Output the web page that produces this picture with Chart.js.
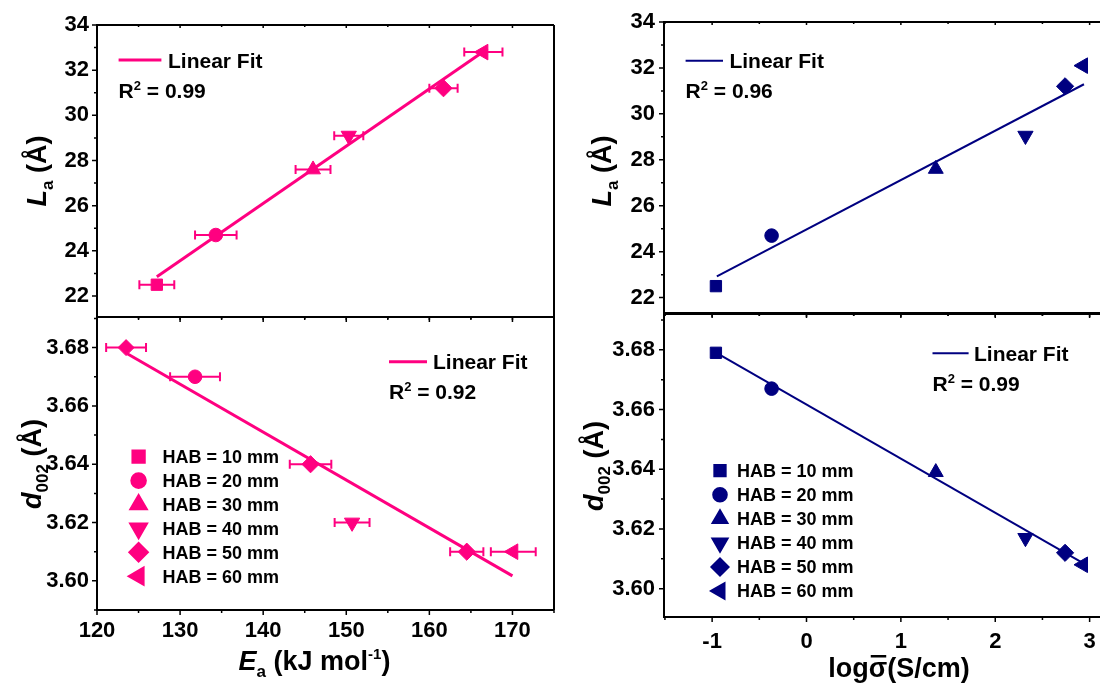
<!DOCTYPE html>
<html lang="en">
  <head>
    <meta charset="UTF-8" />
    <title>La and d002 vs Ea and log sigma</title>
    <script src="https://cdn.jsdelivr.net/npm/chart.js@4"></script>
    <style>
      html,
      body {
        margin: 0;
        padding: 0;
        background: #fff;
        overflow: hidden;
      }
      body {
        width: 1110px;
        height: 684px;
        position: relative;
      }
      canvas {
        position: absolute;
      }
    </style>
  </head>
  <body>
    <canvas id="laEa"></canvas>
    <canvas id="dEa"></canvas>
    <canvas id="laSig"></canvas>
    <canvas id="dSig"></canvas>

    <script>
      // legend labels
      const habLabels = ["HAB = 10 mm", "HAB = 20 mm", "HAB = 30 mm", "HAB = 40 mm", "HAB = 50 mm", "HAB = 60 mm"];

      // La vs Ea (top left)
      const eaForLa = [127.2, 134.3, 146.0, 150.3, 161.7, 166.5];
      const eaForLaErr = [2.1, 2.5, 2.1, 1.75, 1.7, 2.3];
      const laByEa = [22.5, 24.7, 27.6, 29.1, 31.2, 32.8];
      const laEaFitX = [127.2, 167.0];
      const laEaFitY = [22.85, 32.95];

      // d002 vs Ea (bottom left)
      const eaForD = [123.5, 131.8, 145.7, 150.7, 164.5, 170.1];
      const eaForDErr = [2.4, 3.0, 2.5, 2.1, 2.0, 2.7];
      const dByEa = [3.68, 3.67, 3.64, 3.62, 3.61, 3.61];
      const dEaFitX = [123.6, 170.0];
      const dEaFitY = [3.678, 3.6017];

      // La vs log sigma (top right)
      const logSigma = [-0.96, -0.37, 1.37, 2.32, 2.74, 2.93];
      const laBySigma = [22.5, 24.7, 27.6, 29.05, 31.2, 32.1];
      const laSigFitX = [-0.95, 2.94];
      const laSigFitY = [22.92, 31.29];

      // d002 vs log sigma (bottom right)
      const dBySigma = [3.679, 3.667, 3.639, 3.617, 3.612, 3.608];
      const dSigFitX = [-0.95, 2.94];
      const dSigFitY = [3.6789, 3.6084];

      const r2Values = ["0.99", "0.92", "0.96", "0.99"];

      // tick labels
      const laTicks = [22, 24, 26, 28, 30, 32, 34];
      const dTicks = [3.6, 3.62, 3.64, 3.66, 3.68];
      const eaTicks = [120, 130, 140, 150, 160, 170];
      const logTicks = [-1, 0, 1, 2, 3];

      // styles
      const pink = "#ff0080";
      const navy = "#000080";
      const FAMILY = '"Liberation Sans", Arial, sans-serif';
      const B = (s) => `bold ${s}px ${FAMILY}`;
      const BI = (s) => `bold italic ${s}px ${FAMILY}`;
      const markerStyles = ["rect", "circle", "triangle", "triangle", "rectRot", "triangle"];
      const markerStylesDEa = ["rectRot", "circle", "rectRot", "triangle", "rectRot", "triangle"];
      const markerRot = [0, 0, 0, 180, 0, -90];
      const markerRad = [8, 6.8, 8.6, 8.8, 8.6, 9];

      const T = 27;
      const titleLa = [
        { t: "L", f: BI(T) },
        { t: "a", f: B(17), dy: 7 },
        { t: " (Å)", f: B(T) },
      ];
      const titleD = [
        { t: "d", f: BI(T) },
        { t: "002", f: B(17), dy: 7 },
        { t: " (Å)", f: B(T) },
      ];
      const titleEa = [
        { t: "E", f: BI(T) },
        { t: "a", f: B(17), dy: 7 },
        { t: " (kJ mol", f: B(T) },
        { t: "-1", f: B(15), dy: -11 },
        { t: ")", f: B(T) },
      ];
      const titleSig = [
        { t: "log", f: B(T) },
        { t: "σ", f: B(T), bar: true },
        { t: "(S/cm)", f: B(T) },
      ];

      // text with sub/superscripts
      function drawRich(ctx, parts, x, y, center) {
        let w = 0;
        parts.forEach((p) => {
          ctx.font = p.f;
          p.w = ctx.measureText(p.t).width;
          w += p.w;
        });
        let cx = center ? x - w / 2 : x;
        ctx.textAlign = "left";
        ctx.textBaseline = "alphabetic";
        ctx.fillStyle = "#000";
        parts.forEach((p) => {
          ctx.font = p.f;
          ctx.fillText(p.t, cx, y + (p.dy || 0));
          if (p.bar) ctx.fillRect(cx + 2, y - 22, p.w - 3, 2.5);
          cx += p.w;
        });
      }

      function minorsOf(major, min, max) {
        const step = major[1] - major[0];
        const out = [];
        for (let v = major[0] - step / 2; v <= max + 1e-9; v += step) {
          if (v >= min - 1e-9) out.push(v);
        }
        return out;
      }

      // frame, ticks, error bars, legends and titles
      const panelDecor = {
        id: "panelDecor",
        afterDatasetsDraw(chart, args, o) {
          const ctx = chart.ctx;
          const { left, right, top, bottom } = chart.chartArea;
          const xs = chart.scales.x;
          const ys = chart.scales.y;
          ctx.save();

          // error bars
          if (o.err) {
            const pts = chart.data.datasets[0].data;
            ctx.strokeStyle = o.color;
            ctx.lineWidth = 2;
            ctx.beginPath();
            pts.forEach((p, i) => {
              const x1 = xs.getPixelForValue(p.x - o.err[i]);
              const x2 = xs.getPixelForValue(p.x + o.err[i]);
              const py = ys.getPixelForValue(p.y);
              ctx.moveTo(x1, py);
              ctx.lineTo(x2, py);
              ctx.moveTo(x1, py - 4.5);
              ctx.lineTo(x1, py + 4.5);
              ctx.moveTo(x2, py - 4.5);
              ctx.lineTo(x2, py + 4.5);
            });
            ctx.stroke();
          }

          // frame
          ctx.strokeStyle = "#000";
          ctx.lineWidth = 2;
          ctx.beginPath();
          ctx.moveTo(right, top);
          ctx.lineTo(left, top);
          ctx.lineTo(left, bottom);
          ctx.lineTo(right, bottom);
          if (o.frameRight) {
            ctx.moveTo(right, top);
            ctx.lineTo(right, bottom);
          }
          ctx.stroke();

          // ticks
          ctx.lineWidth = 1.5;
          ctx.beginPath();
          const yMinors = minorsOf(o.yMajor, ys.min, ys.max);
          o.yMajor.forEach((v) => {
            const y = ys.getPixelForValue(v);
            ctx.moveTo(left, y);
            ctx.lineTo(left - 5, y);
          });
          yMinors.forEach((v) => {
            const y = ys.getPixelForValue(v);
            ctx.moveTo(left, y);
            ctx.lineTo(left - 3, y);
          });
          const xMinors = minorsOf(o.xMajor, xs.min, xs.max);
          o.xMajor.forEach((v) => {
            const x = xs.getPixelForValue(v);
            ctx.moveTo(x, bottom);
            ctx.lineTo(x, bottom + 5);
            ctx.moveTo(x, top);
            ctx.lineTo(x, top + 3);
          });
          xMinors.forEach((v) => {
            const x = xs.getPixelForValue(v);
            ctx.moveTo(x, bottom);
            ctx.lineTo(x, bottom + 3);
            ctx.moveTo(x, top);
            ctx.lineTo(x, top + 2);
          });
          ctx.stroke();

          // move to page coordinates
          ctx.translate(-o.ox, -o.oy);

          // linear fit legend
          const f = o.fit;
          ctx.strokeStyle = o.color;
          ctx.lineWidth = f.lw;
          ctx.beginPath();
          ctx.moveTo(f.x1, f.y);
          ctx.lineTo(f.x2, f.y);
          ctx.stroke();
          drawRich(ctx, [{ t: "Linear Fit", f: B(21) }], f.tx, f.y + 7.5, false);
          drawRich(
            ctx,
            [
              { t: "R", f: B(21) },
              { t: "2", f: B(13), dy: -8 },
              { t: " = " + f.r2, f: B(21) },
            ],
            f.x1,
            f.ry + 7.5,
            false
          );

          // HAB legend
          if (o.hab) {
            const h = o.hab;
            habLabels.forEach((lab, i) => {
              const y = h.y0 + i * h.dy;
              ctx.fillStyle = o.color;
              ctx.strokeStyle = o.color;
              Chart.helpers.drawPoint(
                ctx,
                { pointStyle: markerStyles[i], rotation: markerRot[i], radius: markerRad[i], borderWidth: 1 },
                h.mx,
                y
              );
              drawRich(ctx, [{ t: lab, f: B(18) }], h.tx, y + 6.5, false);
            });
          }

          // axis titles
          if (o.yTitle) {
            ctx.save();
            ctx.translate(o.yTitle.x, o.yTitle.y);
            ctx.rotate(-Math.PI / 2);
            drawRich(ctx, o.yTitle.parts, 0, 0, true);
            ctx.restore();
          }
          if (o.xTitle) {
            drawRich(ctx, o.xTitle.parts, o.xTitle.x, o.xTitle.y, true);
          }
          ctx.restore();
        },
      };

      function toPoints(xs, ys) {
        return xs.map((x, i) => ({ x, y: ys[i] }));
      }

      function makePanel(id, p) {
        const cv = document.getElementById(id);
        cv.width = p.w;
        cv.height = p.h;
        cv.style.left = p.left + "px";
        cv.style.top = p.top + "px";
        cv.style.width = p.w + "px";
        cv.style.height = p.h + "px";

        const tickFont = { family: FAMILY, size: 22, weight: "bold" };
        return new Chart(cv, {
          type: "scatter",
          data: {
            datasets: [
              {
                data: toPoints(p.xData, p.yData),
                pointStyle: p.styles,
                pointRotation: markerRot,
                pointRadius: markerRad,
                backgroundColor: p.color,
                borderColor: p.color,
                pointBorderWidth: 1,
              },
              {
                data: toPoints(p.fitX, p.fitY),
                showLine: true,
                borderColor: p.color,
                borderWidth: p.fitWidth,
                pointRadius: 0,
              },
            ],
          },
          options: {
            responsive: false,
            animation: false,
            devicePixelRatio: 1,
            events: [],
            layout: { padding: p.pad },
            plugins: {
              legend: { display: false },
              tooltip: { enabled: false },
              panelDecor: p.decor,
            },
            scales: {
              x: {
                type: "linear",
                min: p.xMin,
                max: p.xMax,
                grid: { display: false, drawTicks: false },
                border: { display: false },
                afterBuildTicks: (s) => {
                  s.ticks = p.xTicks.map((v) => ({ value: v }));
                },
                afterFit: (s) => {
                  s.height = p.xh;
                  s.paddingLeft = 0;
                  s.paddingRight = 0;
                },
                ticks: {
                  display: p.xLabels,
                  autoSkip: false,
                  maxRotation: 0,
                  padding: p.xPad,
                  color: "#000",
                  font: tickFont,
                },
              },
              y: {
                type: "linear",
                min: p.yMin,
                max: p.yMax,
                grid: { display: false, drawTicks: false },
                border: { display: false },
                afterBuildTicks: (s) => {
                  s.ticks = p.yTicks.map((v) => ({ value: v }));
                },
                afterFit: (s) => {
                  s.width = p.yw;
                  s.paddingTop = 0;
                  s.paddingBottom = 0;
                },
                ticks: {
                  autoSkip: false,
                  padding: p.yPad,
                  color: "#000",
                  font: tickFont,
                  callback: p.yFmt,
                },
              },
            },
          },
          plugins: [panelDecor],
        });
      }

      // top left
      makePanel("laEa", {
        left: 0, top: 0, w: 564, h: 331, yw: 97, xh: 14,
        pad: { left: 0, top: 25, right: 4, bottom: 0 },
        xData: eaForLa, yData: laByEa, fitX: laEaFitX, fitY: laEaFitY,
        styles: markerStyles, color: pink, fitWidth: 3,
        xMin: 120, xMax: 175, yMin: 21.07, yMax: 34,
        xTicks: eaTicks, yTicks: laTicks, xLabels: false, xPad: 8, yPad: 8,
        yFmt: (v) => v.toString(),
        decor: {
          ox: 0, oy: 0, frameRight: true, color: pink, err: eaForLaErr,
          xMajor: eaTicks, yMajor: laTicks,
          fit: { x1: 118.6, x2: 161.4, y: 60, tx: 168, lw: 3, r2: r2Values[0], ry: 90 },
          hab: null,
          yTitle: { parts: titleLa, x: 46, y: 171 },
          xTitle: null,
        },
      });

      // bottom left
      makePanel("dEa", {
        left: 0, top: 303, w: 564, h: 381, yw: 97, xh: 74,
        pad: { left: 0, top: 14, right: 4, bottom: 0 },
        xData: eaForD, yData: dByEa, fitX: dEaFitX, fitY: dEaFitY,
        styles: markerStylesDEa, color: pink, fitWidth: 3,
        xMin: 120, xMax: 175, yMin: 3.59, yMax: 3.6905,
        xTicks: eaTicks, yTicks: dTicks, xLabels: true, xPad: 8, yPad: 8,
        yFmt: (v) => v.toFixed(2),
        decor: {
          ox: 0, oy: 303, frameRight: true, color: pink, err: eaForDErr,
          xMajor: eaTicks, yMajor: dTicks,
          fit: { x1: 389, x2: 427, y: 361.7, tx: 433, lw: 3, r2: r2Values[1], ry: 391.7 },
          hab: { mx: 138.6, tx: 162.5, y0: 456.7, dy: 23.9 },
          yTitle: { parts: titleD, x: 41, y: 464 },
          xTitle: { parts: titleEa, x: 314.5, y: 670 },
        },
      });

      // top right
      makePanel("laSig", {
        left: 560, top: 0, w: 550, h: 327, yw: 104, xh: 14,
        pad: { left: 0, top: 22, right: 0, bottom: 0 },
        xData: logSigma, yData: laBySigma, fitX: laSigFitX, fitY: laSigFitY,
        styles: markerStyles, color: navy, fitWidth: 2,
        xMin: -1.51, xMax: 3.11, yMin: 21.33, yMax: 34,
        xTicks: logTicks, yTicks: laTicks, xLabels: false, xPad: 8, yPad: 9,
        yFmt: (v) => v.toString(),
        decor: {
          ox: 560, oy: 0, frameRight: false, color: navy, err: null,
          xMajor: logTicks, yMajor: laTicks,
          fit: { x1: 685.6, x2: 723, y: 60.7, tx: 729.4, lw: 2, r2: r2Values[2], ry: 90.7 },
          hab: null,
          yTitle: { parts: titleLa, x: 611, y: 171 },
          xTitle: null,
        },
      });

      // bottom right
      makePanel("dSig", {
        left: 560, top: 300, w: 550, h: 384, yw: 104, xh: 67,
        pad: { left: 0, top: 14, right: 0, bottom: 0 },
        xData: logSigma, yData: dBySigma, fitX: dSigFitX, fitY: dSigFitY,
        styles: markerStyles, color: navy, fitWidth: 2,
        xMin: -1.51, xMax: 3.11, yMin: 3.5905, yMax: 3.692,
        xTicks: logTicks, yTicks: dTicks, xLabels: true, xPad: 12, yPad: 9,
        yFmt: (v) => v.toFixed(2),
        decor: {
          ox: 560, oy: 300, frameRight: false, color: navy, err: null,
          xMajor: logTicks, yMajor: dTicks,
          fit: { x1: 932.5, x2: 968.6, y: 353.3, tx: 974, lw: 2, r2: r2Values[3], ry: 383.3 },
          hab: { mx: 720, tx: 737, y0: 470.7, dy: 24.05 },
          yTitle: { parts: titleD, x: 603, y: 466 },
          xTitle: { parts: titleSig, x: 899, y: 677 },
        },
      });
    </script>
  </body>
</html>
